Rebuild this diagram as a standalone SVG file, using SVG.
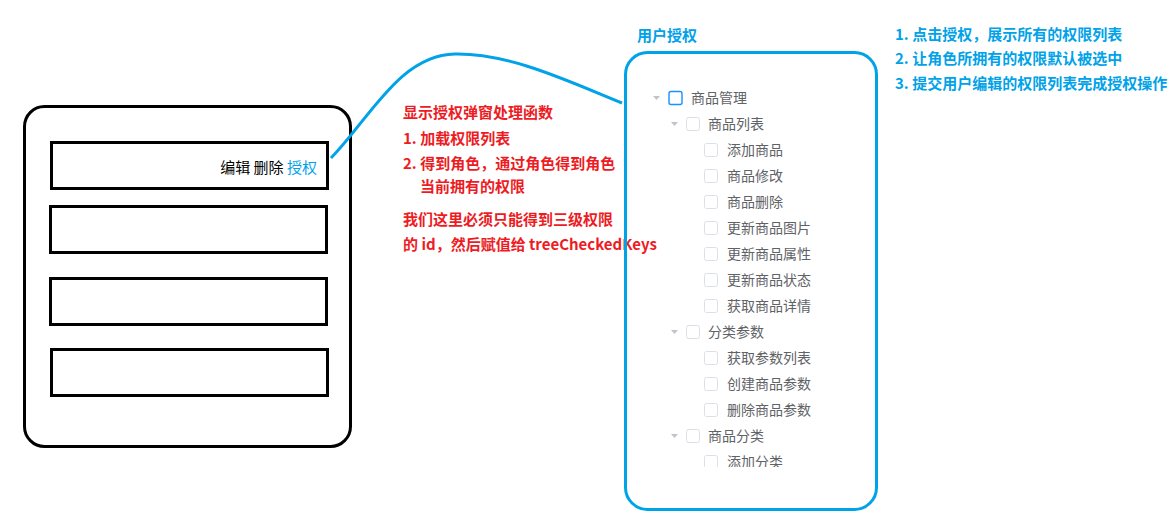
<svg xmlns="http://www.w3.org/2000/svg" width="1172" height="522" viewBox="0 0 1172 522">
<style>
.box{fill:none;stroke:#000;stroke-width:3}
.cjk{font-family:"Noto Sans CJK SC","Liberation Sans",sans-serif}
.red{fill:#ED1C24;font-size:15px;font-weight:bold}
.blue{fill:#00A2E8;font-size:15px;font-weight:bold}
.tree{fill:#606266;font-size:14px}
.cb{fill:#fff;stroke:#dcdfe6;stroke-width:1}
.caret{fill:#c0c4cc}
</style>
<defs>
<clipPath id="treeClip"><rect x="630" y="60" width="240" height="407"/></clipPath>
</defs>
<rect width="1172" height="522" fill="#fff"/>

<g id="list-panel">
<rect class="box" x="24.5" y="106.5" width="326" height="340" rx="20"/>
<g id="row1">
<rect class="box" x="51.5" y="142.5" width="276" height="46"/>
<text class="cjk" x="317" y="173" font-size="15" text-anchor="end" fill="#000">编辑 删除 <tspan fill="#00A2E8">授权</tspan></text>
</g>
<rect id="row2" class="box" x="50.5" y="206.5" width="276" height="46"/>
<rect id="row3" class="box" x="50.5" y="278.5" width="276" height="46"/>
<rect id="row4" class="box" x="51.5" y="349.5" width="276" height="46"/>
</g>

<g id="connectors">
<path d="M331,158 C370,118 400,55 455,54 C510,53 570,82 622,103" fill="none" stroke="#00A2E8" stroke-width="3"/>
</g>

<g id="handler-note" class="cjk red">
<text x="403" y="118">显示授权弹窗处理函数</text>
<text x="403" y="144">1. 加载权限列表</text>
<text x="403" y="169">2. 得到角色，通过角色得到角色</text>
<text x="420" y="192">当前拥有的权限</text>
<text x="403" y="225">我们这里必须只能得到三级权限</text>
<text x="403" y="250">的 id，然后赋值给 treeCheckedKeys</text>
</g>

<g id="steps-note" class="cjk blue">
<text x="895" y="40">1. 点击授权，展示所有的权限列表</text>
<text x="895" y="64">2. 让角色所拥有的权限默认被选中</text>
<text x="895" y="89">3. 提交用户编辑的权限列表完成授权操作</text>
</g>

<g id="auth-dialog">
<text class="cjk blue" x="637" y="41">用户授权</text>
<rect x="625.5" y="52.5" width="251" height="457" rx="22" fill="none" stroke="#00A2E8" stroke-width="3"/>
<g id="tree" clip-path="url(#treeClip)" class="cjk tree">
<path class="caret" d="M653,96 h7 l-3.5,4 z"/>
<rect x="669" y="91.5" width="13" height="13" rx="2" fill="#fff" stroke="#1890ff" stroke-width="1.4"/>
<text x="691" y="103">商品管理</text>

<path class="caret" d="M671,122 h7 l-3.5,4 z"/>
<rect class="cb" x="686.5" y="117.5" width="13" height="13" rx="2"/>
<text x="708" y="129">商品列表</text>
<rect class="cb" x="704.5" y="143.5" width="13" height="13" rx="2"/>
<text x="727" y="155">添加商品</text>
<rect class="cb" x="704.5" y="169.5" width="13" height="13" rx="2"/>
<text x="727" y="181">商品修改</text>
<rect class="cb" x="704.5" y="195.5" width="13" height="13" rx="2"/>
<text x="727" y="207">商品删除</text>
<rect class="cb" x="704.5" y="221.5" width="13" height="13" rx="2"/>
<text x="727" y="233">更新商品图片</text>
<rect class="cb" x="704.5" y="247.5" width="13" height="13" rx="2"/>
<text x="727" y="259">更新商品属性</text>
<rect class="cb" x="704.5" y="273.5" width="13" height="13" rx="2"/>
<text x="727" y="285">更新商品状态</text>
<rect class="cb" x="704.5" y="299.5" width="13" height="13" rx="2"/>
<text x="727" y="311">获取商品详情</text>

<path class="caret" d="M671,330 h7 l-3.5,4 z"/>
<rect class="cb" x="686.5" y="325.5" width="13" height="13" rx="2"/>
<text x="708" y="337">分类参数</text>
<rect class="cb" x="704.5" y="351.5" width="13" height="13" rx="2"/>
<text x="727" y="363">获取参数列表</text>
<rect class="cb" x="704.5" y="377.5" width="13" height="13" rx="2"/>
<text x="727" y="389">创建商品参数</text>
<rect class="cb" x="704.5" y="403.5" width="13" height="13" rx="2"/>
<text x="727" y="415">删除商品参数</text>

<path class="caret" d="M671,434 h7 l-3.5,4 z"/>
<rect class="cb" x="686.5" y="429.5" width="13" height="13" rx="2"/>
<text x="708" y="441">商品分类</text>
<rect class="cb" x="704.5" y="455.5" width="13" height="13" rx="2"/>
<text x="727" y="467">添加分类</text>
</g>
</g>
</svg>
